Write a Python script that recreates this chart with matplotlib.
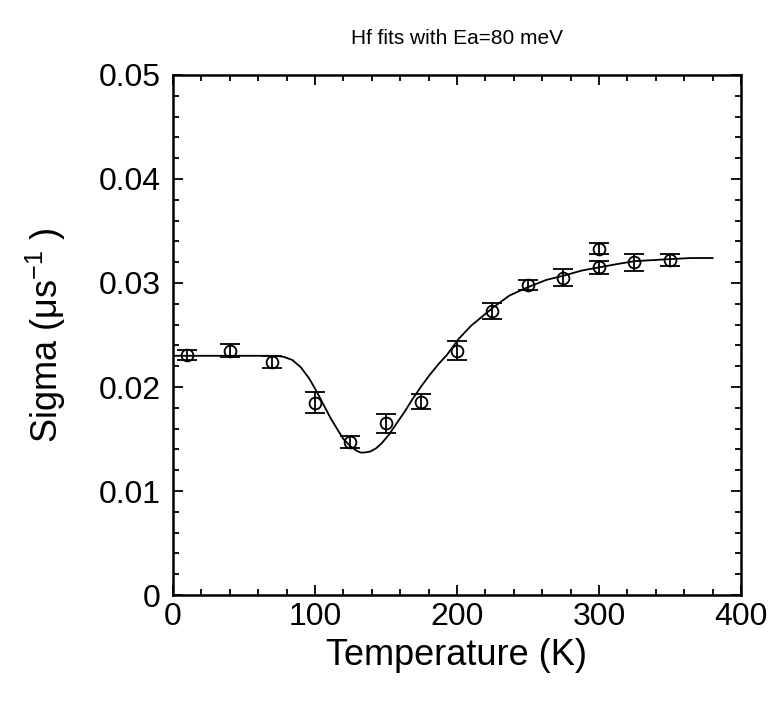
import matplotlib
matplotlib.use("Agg")
import matplotlib.pyplot as plt
from matplotlib.ticker import MultipleLocator

plt.rcParams["font.family"] = ["Liberation Sans", "DejaVu Sans"]
plt.rcParams["mathtext.fontset"] = "custom"
plt.rcParams["mathtext.rm"] = "Liberation Sans"

# measured points
temp = [10, 40, 70, 100, 125, 150, 175, 200, 225, 250, 275, 300, 300, 325, 350]
sigma = [0.0231, 0.0235, 0.0224, 0.0185, 0.0147, 0.0165, 0.0186, 0.0235,
         0.0273, 0.0298, 0.0305, 0.0315, 0.0333, 0.0320, 0.0322]
sigma_err = [0.0005, 0.00065, 0.0006, 0.001, 0.0006, 0.0009, 0.0007, 0.0009,
             0.0008, 0.0005, 0.0008, 0.0006, 0.0005, 0.0008, 0.0006]

# fit curve
fit_t = [1, 20, 40, 60, 72, 78, 84, 90, 96, 101, 106, 111, 115, 120, 125,
         129, 132, 135, 139, 143, 147, 152, 157, 163, 169, 175, 181, 187,
         193, 201, 210, 218, 225, 237, 250, 263, 275, 288, 300, 312, 325,
         338, 350, 365, 380]
fit_s = [0.0230, 0.0230, 0.0230, 0.0230, 0.0230, 0.0229, 0.0226, 0.0219,
         0.0208, 0.0196, 0.0183, 0.0170, 0.0161, 0.0150, 0.0143, 0.0139,
         0.0137, 0.0137, 0.0138, 0.0141, 0.0146, 0.0154, 0.0164, 0.0176,
         0.0189, 0.0201, 0.0212, 0.0222, 0.0231, 0.0246, 0.0259, 0.0268,
         0.0276, 0.0288, 0.0296, 0.0303, 0.0307, 0.0312, 0.0315, 0.0318,
         0.0321, 0.0322, 0.0323, 0.0324, 0.0324]

fig = plt.figure(figsize=(7.72, 7.04), dpi=100)
ax = fig.add_axes([0.2241, 0.1548, 0.7357, 0.7387])

ax.plot(fit_t, fit_s, color="black", linewidth=1.3)
ax.errorbar(temp, sigma, yerr=sigma_err, fmt="o", markersize=8.5,
            markerfacecolor="none", markeredgecolor="black",
            markeredgewidth=1.3, ecolor="black", elinewidth=1.3,
            capsize=7, capthick=1.4)

ax.set_xlim(0, 400)
ax.set_ylim(0, 0.05)
ax.xaxis.set_major_locator(MultipleLocator(100))
ax.xaxis.set_minor_locator(MultipleLocator(20))
ax.yaxis.set_major_locator(MultipleLocator(0.01))
ax.yaxis.set_minor_locator(MultipleLocator(0.002))
ax.yaxis.set_major_formatter(plt.FuncFormatter(lambda v, p: "0" if v == 0 else f"{v:.2f}"))

ax.tick_params(which="both", direction="in", top=True, right=True,
               labelsize=23, width=1.3)
ax.tick_params(which="major", length=7, pad=9)
ax.tick_params(axis="x", which="major", pad=5)
ax.tick_params(which="minor", length=4)
for s in ax.spines.values():
    s.set_linewidth(1.8)

ax.set_xlabel("Temperature (K)", fontsize=26, labelpad=4)
ax.set_ylabel("Sigma (\u03bcs$^{\\mathrm{-1}}$ )", fontsize=26, labelpad=22)
ax.set_title("Hf fits with Ea=80 meV", fontsize=15, pad=22)

fig.savefig("out.png", dpi=100)
